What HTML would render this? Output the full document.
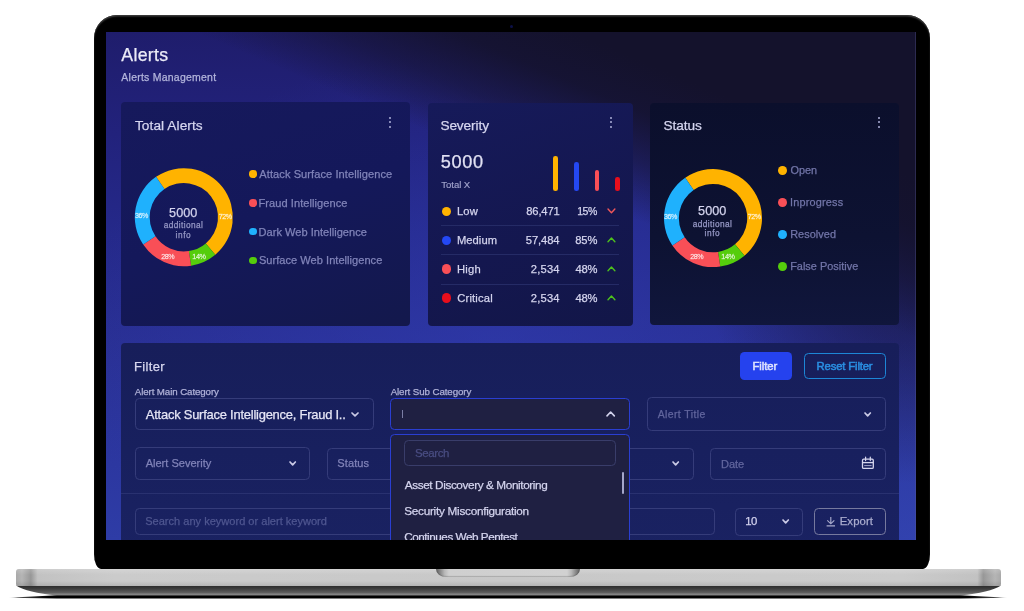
<!DOCTYPE html>
<html><head><meta charset="utf-8"><title>Alerts - Alerts Management</title>
<style>
*{margin:0;padding:0;box-sizing:border-box}
html,body{width:1024px;height:611px;background:#fff;overflow:hidden;position:relative;font-family:"Liberation Sans",Arial,sans-serif}
.abs{position:absolute}
.t{position:absolute;line-height:1;white-space:nowrap;-webkit-text-stroke:.25px currentColor}
.m{-webkit-text-stroke:.25px currentColor}
#bezel{position:absolute;left:94px;top:14.5px;width:835.5px;height:554.5px;background:#000;border-radius:23px 23px 7px 7px / 23px 23px 15px 15px;box-shadow:inset 0 1.5px 1.5px rgba(70,70,70,.9)}
#screen{position:absolute;left:106px;top:32px;width:810px;height:508px;overflow:hidden;
 background:
  linear-gradient(23deg, rgba(20,18,44,0) 64%, rgba(20,18,44,.55) 71%, rgba(20,18,44,.9) 77%, rgba(20,18,44,1) 83%),
  radial-gradient(ellipse 230px 300px at 100% 30%, rgba(20,18,44,.75) 0%, rgba(20,18,44,.45) 50%, rgba(20,18,44,0) 100%),
  radial-gradient(ellipse 300px 200px at 100% 100%, rgba(52,70,180,.6) 0%, rgba(52,70,180,0) 100%),
  radial-gradient(ellipse 420px 300px at 48% 62%, rgba(48,60,178,.55) 0%, rgba(48,60,178,0) 100%),
  linear-gradient(180deg,#1f1d6c 0%,#22227c 20%,#25298a 40%,#2a3196 65%,#2c37a0 85%,#2e3ca6 100%)}
.kb i{position:absolute;left:0;width:2px;height:2px;border-radius:1px;background:#aeb0d8}
.dot{position:absolute;border-radius:50%}
</style></head><body>

<svg class="abs" style="left:0;top:560px" width="1024" height="45" viewBox="0 560 1024 45">
<defs>
<linearGradient id="gb" x1="0" y1="0" x2="0" y2="1"><stop offset="0" stop-color="#2a2a2a"/><stop offset=".3" stop-color="#3c3c3c"/><stop offset=".7" stop-color="#5e5e5e"/><stop offset=".88" stop-color="#8a8a8a"/><stop offset="1" stop-color="#3a3a3a"/></linearGradient>
<linearGradient id="gl" x1="0" y1="0" x2="1" y2="0"><stop offset="0" stop-color="#000" stop-opacity="0"/><stop offset=".01" stop-color="#000" stop-opacity=".7"/><stop offset=".04" stop-color="#000"/><stop offset=".96" stop-color="#000"/><stop offset=".99" stop-color="#000" stop-opacity=".7"/><stop offset="1" stop-color="#000" stop-opacity="0"/></linearGradient>
</defs>
<path d="M8 597.8 L57 595.2 L960 595.2 L1008 597.8 L960 598.4 L57 598.4 Z" fill="url(#gl)"/>
<path d="M16 585.5 L1001 585.5 Q990 592.5 960 595.6 L57 595.6 Q27 592.5 16 585.5 Z" fill="url(#gb)"/>
</svg>
<div class="abs" style="left:16px;top:569px;width:985px;height:17px;border-radius:3px 3px 2px 2px;background:linear-gradient(90deg,#a9a9a9 0%,#b5b5b5 0.6%,#a2a2a2 1.2%,#979797 1.5%,#c2c2c2 2.2%,#cbcbcb 10%,#c8c8c8 50%,#cbcbcb 90%,#c2c2c2 97.6%,#979797 98.2%,#a2a2a2 98.6%,#b5b5b5 99.4%,#a9a9a9 100%)"></div>
<div class="abs" style="left:16px;top:569px;width:985px;height:17px;border-radius:3px 3px 2px 2px;background:linear-gradient(180deg,rgba(255,255,255,.18) 0%,rgba(255,255,255,0) 35%,rgba(0,0,0,0) 70%,rgba(0,0,0,.10) 100%)"></div>
<div class="abs" style="left:436px;top:569px;width:144px;height:8.4px;border-radius:0 0 10px 10px/0 0 8px 8px;background:linear-gradient(90deg,#5e5e5e 0%,#8a8a8a 3%,#b8b8b8 6%,#cfcfcf 9%,#d1d1d1 91%,#b8b8b8 94%,#8a8a8a 97%,#5e5e5e 100%);box-shadow:inset 0 -1px 1px rgba(0,0,0,.18)"></div>

<div id="bezel"></div>
<div class="abs" style="left:510px;top:24.5px;width:3px;height:3px;border-radius:50%;background:#0c1048"></div>
<div id="screen">
<div class="t" style="left:15.31px;top:15.00px;font-size:17.73px;color:#ececf8;letter-spacing:0.321px;">Alerts</div>
<div class="t" style="left:15.35px;top:41.00px;font-size:10.47px;color:#b3b5dc;letter-spacing:0.248px;">Alerts Management</div>
<div class="abs" style="left:15.30px;top:70.30px;width:288.30px;height:223.70px;border-radius:4px;background:linear-gradient(160deg,#16195c 0%,#14185a 50%,#13184c 100%)"></div>
<div class="abs" style="left:321.50px;top:70.60px;width:205.50px;height:223.20px;border-radius:4px;background:linear-gradient(160deg,#161a5a 0%,#14174f 60%,#121648 100%)"></div>
<div class="abs" style="left:544.00px;top:70.80px;width:249.20px;height:222.20px;border-radius:4px;background:linear-gradient(180deg,#0b0f2c 0%,#0d1232 60%,#10163c 100%)"></div>
<div class="t" style="left:28.93px;top:87.00px;font-size:13.66px;color:#d6d6f0;letter-spacing:0.085px;">Total Alerts</div>
<div class="t" style="left:334.39px;top:87.00px;font-size:13.66px;color:#d6d6f0;letter-spacing:-0.106px;">Severity</div>
<div class="t" style="left:557.59px;top:87.00px;font-size:13.66px;color:#d6d6f0;letter-spacing:-0.068px;">Status</div>
<div class="abs kb" style="left:282.90px;top:85.10px;width:2px;height:12px"><i style="top:0"></i><i style="top:4.3px"></i><i style="top:8.6px"></i></div>
<div class="abs kb" style="left:504.20px;top:85.10px;width:2px;height:12px"><i style="top:0"></i><i style="top:4.3px"></i><i style="top:8.6px"></i></div>
<div class="abs kb" style="left:771.90px;top:85.10px;width:2px;height:12px"><i style="top:0"></i><i style="top:4.3px"></i><i style="top:8.6px"></i></div>
<svg class="abs" style="left:0;top:0" width="810" height="508" viewBox="106 32 810 508"><path d="M156.05 176.82A49 49 0 0 1 215.30 254.74L205.78 243.40A34.2 34.2 0 0 0 164.43 189.01Z" fill="#ffb300"/><path d="M215.30 254.74A49 49 0 0 1 191.04 265.66L188.86 251.02A34.2 34.2 0 0 0 205.78 243.40Z" fill="#55cd0c"/><path d="M191.04 265.66A49 49 0 0 1 143.18 244.60L155.45 236.32A34.2 34.2 0 0 0 188.86 251.02Z" fill="#f94f57"/><path d="M143.18 244.60A49 49 0 0 1 156.05 176.82L164.43 189.01A34.2 34.2 0 0 0 155.45 236.32Z" fill="#1fb1fd"/><path d="M685.25 177.72A49 49 0 0 1 744.50 255.64L734.98 244.30A34.2 34.2 0 0 0 693.63 189.91Z" fill="#ffb300"/><path d="M744.50 255.64A49 49 0 0 1 720.24 266.56L718.06 251.92A34.2 34.2 0 0 0 734.98 244.30Z" fill="#55cd0c"/><path d="M720.24 266.56A49 49 0 0 1 672.38 245.50L684.65 237.22A34.2 34.2 0 0 0 718.06 251.92Z" fill="#f94f57"/><path d="M672.38 245.50A49 49 0 0 1 685.25 177.72L693.63 189.91A34.2 34.2 0 0 0 684.65 237.22Z" fill="#1fb1fd"/></svg>
<div class="t" style="left:63.09px;top:175.00px;font-size:12.65px;color:#d4d4ee;letter-spacing:0.025px;">5000</div>
<div class="t" style="left:57.87px;top:189.00px;font-size:8.30px;color:#9799c6;letter-spacing:0.372px;">additional</div>
<div class="t" style="left:69.46px;top:199.00px;font-size:8.30px;color:#9799c6;letter-spacing:0.636px;">info</div>
<div class="t" style="left:29.02px;top:181.00px;font-size:7.12px;color:rgba(255,255,255,.78);letter-spacing:-0.450px;-webkit-text-stroke:.3px rgba(255,255,255,.5)">36%</div>
<div class="t" style="left:112.84px;top:182.00px;font-size:7.15px;color:rgba(255,255,255,.78);letter-spacing:-0.450px;-webkit-text-stroke:.3px rgba(255,255,255,.5)">72%</div>
<div class="t" style="left:55.14px;top:222.00px;font-size:7.15px;color:rgba(255,255,255,.78);letter-spacing:-0.450px;-webkit-text-stroke:.3px rgba(255,255,255,.5)">28%</div>
<div class="t" style="left:86.36px;top:221.00px;font-size:7.25px;color:rgba(255,255,255,.78);letter-spacing:-0.450px;-webkit-text-stroke:.3px rgba(255,255,255,.5)">14%</div>
<div class="t" style="left:592.09px;top:173.00px;font-size:12.65px;color:#d4d4ee;letter-spacing:0.025px;">5000</div>
<div class="t" style="left:586.87px;top:188.00px;font-size:8.30px;color:#9799c6;letter-spacing:0.372px;">additional</div>
<div class="t" style="left:598.46px;top:197.00px;font-size:8.30px;color:#9799c6;letter-spacing:0.636px;">info</div>
<div class="t" style="left:558.02px;top:182.00px;font-size:7.12px;color:rgba(255,255,255,.78);letter-spacing:-0.450px;-webkit-text-stroke:.3px rgba(255,255,255,.5)">36%</div>
<div class="t" style="left:641.84px;top:182.00px;font-size:7.15px;color:rgba(255,255,255,.78);letter-spacing:-0.450px;-webkit-text-stroke:.3px rgba(255,255,255,.5)">72%</div>
<div class="t" style="left:584.14px;top:222.00px;font-size:7.15px;color:rgba(255,255,255,.78);letter-spacing:-0.450px;-webkit-text-stroke:.3px rgba(255,255,255,.5)">28%</div>
<div class="t" style="left:615.36px;top:221.00px;font-size:7.25px;color:rgba(255,255,255,.78);letter-spacing:-0.450px;-webkit-text-stroke:.3px rgba(255,255,255,.5)">14%</div>
<div class="abs" style="left:143.40px;top:138.40px;width:7.40px;height:7.40px;border-radius:50%;background:#ffb300"></div>
<div class="t" style="left:153.34px;top:137.00px;font-size:11.05px;color:#8184b9;letter-spacing:0.079px;">Attack Surface Intelligence</div>
<div class="abs" style="left:143.40px;top:167.20px;width:7.40px;height:7.40px;border-radius:50%;background:#f94f57"></div>
<div class="t" style="left:152.52px;top:166.00px;font-size:11.05px;color:#8184b9;letter-spacing:0.062px;">Fraud Intelligence</div>
<div class="abs" style="left:143.40px;top:196.00px;width:7.40px;height:7.40px;border-radius:50%;background:#1fb1fd"></div>
<div class="t" style="left:152.52px;top:195.00px;font-size:11.05px;color:#8184b9;letter-spacing:0.026px;">Dark Web Intelligence</div>
<div class="abs" style="left:143.40px;top:224.80px;width:7.40px;height:7.40px;border-radius:50%;background:#55cd0c"></div>
<div class="t" style="left:152.90px;top:223.00px;font-size:11.05px;color:#8184b9;letter-spacing:0.034px;">Surface Web Intelligence</div>
<div class="abs" style="left:672.40px;top:134.00px;width:8.80px;height:8.80px;border-radius:50%;background:#ffb300"></div>
<div class="t" style="left:684.51px;top:133.00px;font-size:10.90px;color:#7275a8;letter-spacing:-0.018px;">Open</div>
<div class="abs" style="left:672.40px;top:166.05px;width:8.80px;height:8.80px;border-radius:50%;background:#f94f57"></div>
<div class="t" style="left:684.02px;top:165.00px;font-size:10.90px;color:#7275a8;letter-spacing:0.184px;">Inprogress</div>
<div class="abs" style="left:672.40px;top:198.10px;width:8.80px;height:8.80px;border-radius:50%;background:#1fb1fd"></div>
<div class="t" style="left:684.13px;top:197.00px;font-size:10.90px;color:#7275a8;letter-spacing:0.060px;">Resolved</div>
<div class="abs" style="left:672.40px;top:230.15px;width:8.80px;height:8.80px;border-radius:50%;background:#55cd0c"></div>
<div class="t" style="left:684.13px;top:229.00px;font-size:10.90px;color:#7275a8;letter-spacing:0.031px;">False Positive</div>
<div class="t" style="left:334.77px;top:121.00px;font-size:18.17px;color:#e2e2f4;letter-spacing:0.609px;">5000</div>
<div class="t" style="left:335.31px;top:148.00px;font-size:9.59px;color:#a2a4cc;letter-spacing:-0.054px;-webkit-text-stroke:.15px currentColor">Total X</div>
<div class="abs" style="left:447.30px;top:123.60px;width:4.60px;height:35.70px;border-radius:2.3px;background:#ffb300"></div>
<div class="abs" style="left:468.20px;top:130.00px;width:4.60px;height:29.30px;border-radius:2.3px;background:#2448f4"></div>
<div class="abs" style="left:488.60px;top:137.80px;width:4.60px;height:21.50px;border-radius:2.3px;background:#f94f57"></div>
<div class="abs" style="left:509.10px;top:145.30px;width:4.60px;height:14.00px;border-radius:2.3px;background:#e80e1c"></div>
<div class="abs" style="left:335.70px;top:174.70px;width:9.40px;height:9.40px;border-radius:50%;background:#ffb300"></div>
<div class="t" style="left:350.90px;top:174.00px;font-size:11.19px;color:#d4d4ee;letter-spacing:0.229px;">Low</div>
<div class="t" style="left:420.30px;top:174.00px;font-size:11.19px;color:#d4d4ee;letter-spacing:-0.168px;">86,471</div>
<div class="t" style="left:471.21px;top:174.00px;font-size:10.53px;color:#d4d4ee;letter-spacing:-0.450px;">15%</div>
<svg class="abs" style="left:499.96px;top:175.17px" width="10.879999999999999" height="7.654999999999999"><path d="M2 2L5.4399999999999995 5.654999999999999L8.879999999999999 2" fill="none" stroke="#f0575a" stroke-width="1.4" stroke-linecap="round" stroke-linejoin="round"/></svg>
<div class="abs" style="left:335.40px;top:193.00px;width:177.80px;height:1.00px;background:#252b66"></div>
<div class="abs" style="left:335.70px;top:203.55px;width:9.40px;height:9.40px;border-radius:50%;background:#2448f4"></div>
<div class="t" style="left:350.90px;top:203.00px;font-size:11.19px;color:#d4d4ee;letter-spacing:0.067px;">Medium</div>
<div class="t" style="left:419.85px;top:203.00px;font-size:11.19px;color:#d4d4ee;letter-spacing:-0.113px;">57,484</div>
<div class="t" style="left:469.30px;top:203.00px;font-size:11.19px;color:#d4d4ee;letter-spacing:-0.144px;">85%</div>
<svg class="abs" style="left:499.96px;top:204.02px" width="10.879999999999999" height="7.654999999999999"><path d="M2 5.654999999999999L5.4399999999999995 2L8.879999999999999 5.654999999999999" fill="none" stroke="#4ec31c" stroke-width="1.4" stroke-linecap="round" stroke-linejoin="round"/></svg>
<div class="abs" style="left:335.40px;top:222.00px;width:177.80px;height:1.00px;background:#252b66"></div>
<div class="abs" style="left:335.70px;top:232.40px;width:9.40px;height:9.40px;border-radius:50%;background:#f94f57"></div>
<div class="t" style="left:350.90px;top:232.00px;font-size:11.19px;color:#d4d4ee;letter-spacing:0.308px;">High</div>
<div class="t" style="left:424.74px;top:232.00px;font-size:11.19px;color:#d4d4ee;letter-spacing:0.204px;">2,534</div>
<div class="t" style="left:469.52px;top:232.00px;font-size:11.19px;color:#d4d4ee;letter-spacing:-0.256px;">48%</div>
<svg class="abs" style="left:499.96px;top:232.87px" width="10.879999999999999" height="7.654999999999999"><path d="M2 5.654999999999999L5.4399999999999995 2L8.879999999999999 5.654999999999999" fill="none" stroke="#4ec31c" stroke-width="1.4" stroke-linecap="round" stroke-linejoin="round"/></svg>
<div class="abs" style="left:335.40px;top:251.60px;width:177.80px;height:1.00px;background:#252b66"></div>
<div class="abs" style="left:335.70px;top:261.25px;width:9.40px;height:9.40px;border-radius:50%;background:#e80e1c"></div>
<div class="t" style="left:351.24px;top:261.00px;font-size:11.19px;color:#d4d4ee;letter-spacing:0.185px;">Critical</div>
<div class="t" style="left:424.74px;top:261.00px;font-size:11.19px;color:#d4d4ee;letter-spacing:0.204px;">2,534</div>
<div class="t" style="left:469.52px;top:261.00px;font-size:11.19px;color:#d4d4ee;letter-spacing:-0.256px;">48%</div>
<svg class="abs" style="left:499.96px;top:261.72px" width="10.879999999999999" height="7.654999999999999"><path d="M2 5.654999999999999L5.4399999999999995 2L8.879999999999999 5.654999999999999" fill="none" stroke="#4ec31c" stroke-width="1.4" stroke-linecap="round" stroke-linejoin="round"/></svg>
<div class="abs" style="left:15.20px;top:311.20px;width:778.10px;height:216.80px;border-radius:4px;background:linear-gradient(180deg,#171e5a 0%,#18205e 50%,#1a2262 100%)"></div>
<div class="t" style="left:28.07px;top:329.00px;font-size:12.94px;color:#d8d8f0;letter-spacing:0.342px;">Filter</div>
<div class="abs" style="left:633.70px;top:320.00px;width:51.90px;height:27.70px;border-radius:4.5px;background:#2542ee"></div>
<div class="t" style="left:646.49px;top:329.00px;font-size:11.34px;color:#dfe3ff;letter-spacing:-0.058px;-webkit-text-stroke:.5px currentColor">Filter</div>
<div class="abs" style="left:698.20px;top:320.80px;width:82.00px;height:25.90px;border-radius:4.5px;border:1.4px solid #1d86d6"></div>
<div class="t" style="left:710.59px;top:329.00px;font-size:11.34px;color:#2a8fe2;letter-spacing:-0.169px;-webkit-text-stroke:.5px currentColor">Reset Filter</div>
<div class="t" style="left:28.75px;top:355.00px;font-size:9.74px;color:#b0b2d8;letter-spacing:-0.102px;">Alert Main Category</div>
<div class="t" style="left:284.65px;top:355.00px;font-size:9.74px;color:#b0b2d8;letter-spacing:-0.094px;">Alert Sub Category</div>
<div class="abs" style="left:28.90px;top:365.60px;width:239.00px;height:32.60px;border-radius:4.5px;border:1px solid #353c7a;"></div>
<div class="t" style="left:39.84px;top:377.00px;font-size:12.94px;color:#e6e6f6;letter-spacing:-0.231px;">Attack Surface Intelligence, Fraud I..</div>
<svg class="abs" style="left:243.79px;top:378.81px" width="10.02" height="6.975"><path d="M2 2L5.01 4.975L8.02 2" fill="none" stroke="#cacae6" stroke-width="1.7" stroke-linecap="round" stroke-linejoin="round"/></svg>
<div class="abs" style="left:540.50px;top:365.40px;width:239.50px;height:33.40px;border-radius:4.5px;border:1px solid #353c7a;"></div>
<div class="t" style="left:551.65px;top:378.00px;font-size:10.47px;color:#62669e;letter-spacing:0.404px;">Alert Title</div>
<svg class="abs" style="left:757.23px;top:378.56px" width="9.332" height="6.89"><path d="M2 2L4.666 4.89L7.332 2" fill="none" stroke="#cacae6" stroke-width="1.7" stroke-linecap="round" stroke-linejoin="round"/></svg>
<div class="abs" style="left:28.90px;top:415.40px;width:175.20px;height:33.00px;border-radius:4.5px;border:1px solid #353c7a;"></div>
<div class="t" style="left:39.64px;top:426.00px;font-size:11.05px;color:#8083b8;">Alert Severity</div>
<svg class="abs" style="left:181.63px;top:428.06px" width="9.332" height="6.89"><path d="M2 2L4.666 4.89L7.332 2" fill="none" stroke="#cacae6" stroke-width="1.7" stroke-linecap="round" stroke-linejoin="round"/></svg>
<div class="abs" style="left:220.50px;top:415.50px;width:367.20px;height:32.70px;border-radius:4.5px;border:1px solid #353c7a;"></div>
<div class="t" style="left:231.30px;top:426.00px;font-size:11.05px;color:#8083b8;letter-spacing:0.093px;">Status</div>
<svg class="abs" style="left:565.33px;top:427.95px" width="9.332" height="6.89"><path d="M2 2L4.666 4.89L7.332 2" fill="none" stroke="#cacae6" stroke-width="1.7" stroke-linecap="round" stroke-linejoin="round"/></svg>
<div class="abs" style="left:604.20px;top:415.60px;width:175.40px;height:32.50px;border-radius:4.5px;border:1px solid #353c7a;"></div>
<div class="t" style="left:614.92px;top:427.00px;font-size:11.05px;color:#62669e;">Date</div>
<svg class="abs" style="left:750px;top:420px" width="24" height="22" viewBox="856 452 24 22"><rect x="862.5" y="459.2" width="10.8" height="9.2" rx="1.2" fill="none" stroke="#d6d6ee" stroke-width="1.3"/><path d="M862.5 462.6H873.3" stroke="#d6d6ee" stroke-width="1.3"/><path d="M864.2 465.6H871.6" stroke="#c8c8e4" stroke-width=".8"/><path d="M865.6 457V460.6M870.3 457V460.6" stroke="#d6d6ee" stroke-width="1.2" stroke-linecap="round"/></svg>
<div class="abs" style="left:15.20px;top:461.30px;width:778.10px;height:1.00px;background:#293170"></div>
<div class="abs" style="left:29.00px;top:475.80px;width:579.60px;height:27.70px;border-radius:4.5px;border:1px solid #353c7a;"></div>
<div class="t" style="left:39.20px;top:484.00px;font-size:11.05px;color:#4f5690;">Search any keyword or alert keyword</div>
<div class="abs" style="left:629.00px;top:475.70px;width:67.60px;height:28.10px;border-radius:4.5px;border:1px solid #353c7a;"></div>
<div class="t" style="left:639.15px;top:484.00px;font-size:11.34px;color:#d2d2ee;letter-spacing:-0.381px;">10</div>
<svg class="abs" style="left:674.73px;top:486.35px" width="9.332" height="6.89"><path d="M2 2L4.666 4.89L7.332 2" fill="none" stroke="#cacae6" stroke-width="1.7" stroke-linecap="round" stroke-linejoin="round"/></svg>
<div class="abs" style="left:708.00px;top:476.20px;width:72.10px;height:26.70px;border-radius:4.5px;border:1.2px solid #76799e"></div>
<svg class="abs" style="left:720px;top:485px" width="10" height="10" viewBox="0 0 10 10"><path d="M4.8 0v6.6M1.3 3.4L4.8 6.8L8.3 3.4M.6 8.9h8.4" fill="none" stroke="#a8aacc" stroke-width="1.15"/></svg>
<div class="t" style="left:733.69px;top:484.00px;font-size:11.34px;color:#aaacce;letter-spacing:0.111px;">Export</div>
<div class="abs" style="left:284.40px;top:365.60px;width:239.70px;height:32.60px;border-radius:4.5px;border:1.4px solid #2a3ed2;background:#1f2042"></div>
<div class="abs" style="left:296.00px;top:377.80px;width:1.00px;height:8.60px;background:#7b7ea6"></div>
<svg class="abs" style="left:498.95px;top:378.25px" width="11.309999999999999" height="7.91"><path d="M2 5.91L5.654999999999999 2L9.309999999999999 5.91" fill="none" stroke="#d2d2ec" stroke-width="1.6" stroke-linecap="round" stroke-linejoin="round"/></svg>
<div class="abs" style="left:284.40px;top:401.90px;width:239.70px;height:146.10px;border-radius:4.5px;border:1.4px solid #2a3ed2;background:#1f2042"></div>
<div class="abs" style="left:298.40px;top:407.50px;width:211.40px;height:26.50px;border-radius:4.5px;border:1px solid #393d6a"></div>
<div class="t" style="left:309.08px;top:416.00px;font-size:11.48px;color:#494d82;letter-spacing:-0.416px;">Search</div>
<div class="abs" style="left:515.50px;top:439.90px;width:2.50px;height:22.50px;border-radius:1.3px;background:#a4a6ca"></div>
<div class="t" style="left:298.74px;top:447.00px;font-size:11.77px;color:#d4d4ee;letter-spacing:-0.394px;">Asset Discovery &amp; Monitoring</div>
<div class="t" style="left:298.27px;top:473.00px;font-size:11.77px;color:#d4d4ee;letter-spacing:-0.276px;">Security Misconfiguration</div>
<div class="t" style="left:298.22px;top:499.00px;font-size:11.70px;color:#d4d4ee;letter-spacing:-0.450px;">Continues Web Pentest</div>
<div class="abs" style="left:809.00px;top:0.00px;width:1.00px;height:508.00px;background:rgba(90,90,150,.35)"></div>
</div>
</body></html>
